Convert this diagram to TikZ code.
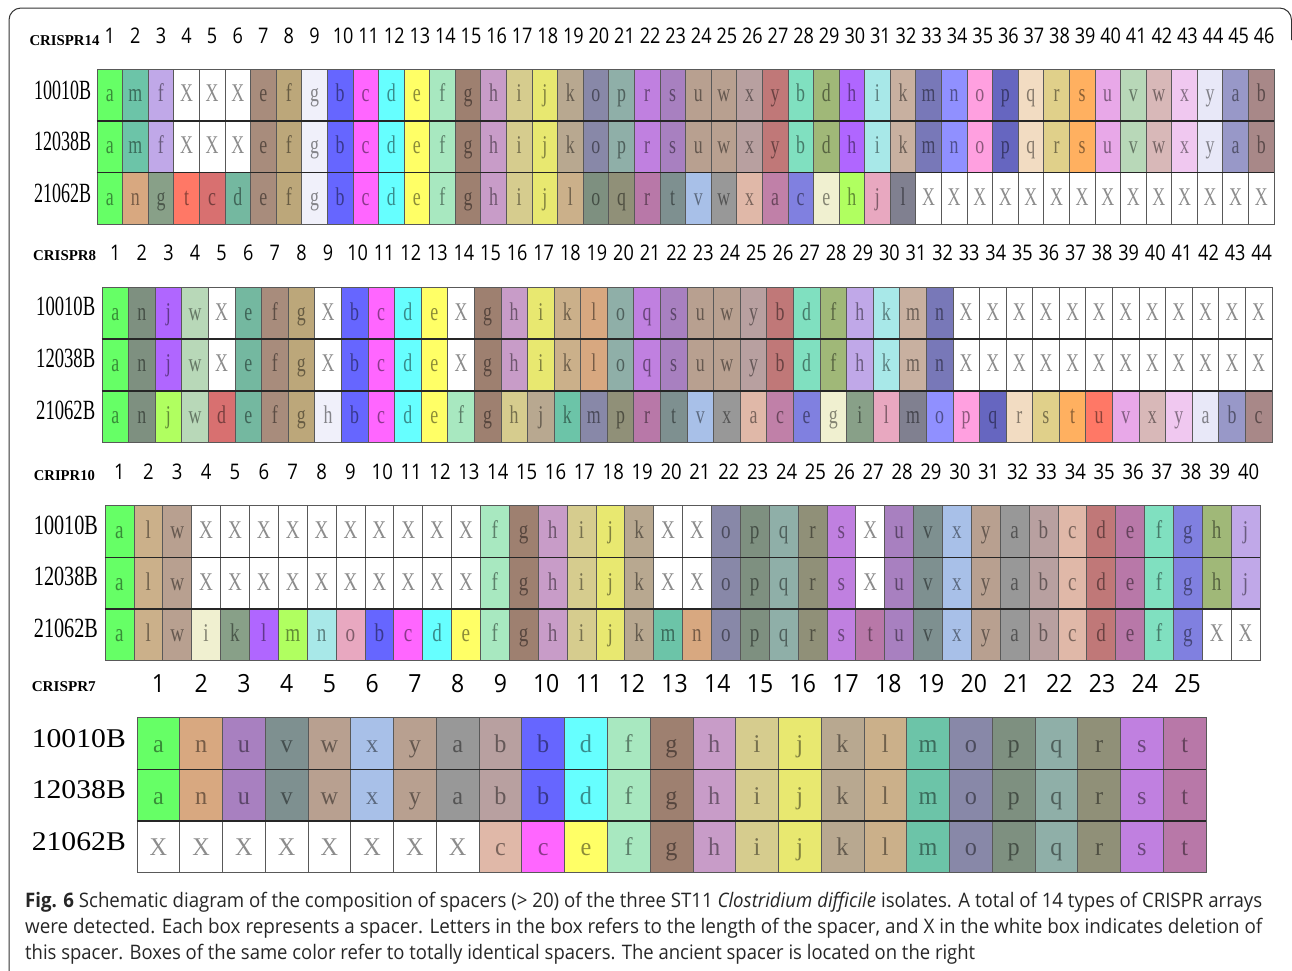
\documentclass[tikz,border=0pt]{standalone}
\usepackage{fontspec}
\setmainfont{Liberation Serif}
\newfontfamily\numfont{Open Sans}
\newfontfamily\capfont{Open Sans}
\usepackage{graphicx}
% palette
\definecolor{GR}{HTML}{66FF66}
\definecolor{TE}{HTML}{6CC4A8}
\definecolor{LV}{HTML}{C0A8E8}
\definecolor{BR1}{HTML}{A88C7C}
\definecolor{TN}{HTML}{BCA77A}
\definecolor{WH2}{HTML}{F0F0FA}
\definecolor{BL}{HTML}{6666FF}
\definecolor{MG}{HTML}{FF66FF}
\definecolor{CY}{HTML}{66FFFF}
\definecolor{YE}{HTML}{FFFF66}
\definecolor{MT}{HTML}{A8E8C0}
\definecolor{BR2}{HTML}{9E8070}
\definecolor{LP}{HTML}{C89CC8}
\definecolor{KH}{HTML}{D6CC8E}
\definecolor{YJ}{HTML}{E8E870}
\definecolor{TP}{HTML}{B8A890}
\definecolor{SL}{HTML}{8888A8}
\definecolor{GT}{HTML}{8FAFA8}
\definecolor{PP}{HTML}{C080E0}
\definecolor{PU}{HTML}{A880C0}
\definecolor{TB}{HTML}{B8A090}
\definecolor{MV}{HTML}{B8A0A0}
\definecolor{RD}{HTML}{C07878}
\definecolor{MN}{HTML}{80E0C0}
\definecolor{OL}{HTML}{A0B878}
\definecolor{VI}{HTML}{B066FF}
\definecolor{PC}{HTML}{A8E8E8}
\definecolor{TQ}{HTML}{C8B0A0}
\definecolor{SB}{HTML}{7878B8}
\definecolor{PW}{HTML}{9090FF}
\definecolor{PK}{HTML}{FFA0E0}
\definecolor{IN}{HTML}{6666C0}
\definecolor{PE}{HTML}{F2DCC2}
\definecolor{KY}{HTML}{E0D08A}
\definecolor{OR}{HTML}{FFB060}
\definecolor{PM}{HTML}{E8A8E8}
\definecolor{SG}{HTML}{B8D8B8}
\definecolor{DP}{HTML}{D8B8B8}
\definecolor{PL}{HTML}{F0C8F0}
\definecolor{VL}{HTML}{E8E8F8}
\definecolor{SP}{HTML}{9898C8}
\definecolor{MB}{HTML}{A88888}
\definecolor{NT}{HTML}{D8A880}
\definecolor{GG}{HTML}{88A088}
\definecolor{CO}{HTML}{FF7866}
\definecolor{RP}{HTML}{D87070}
\definecolor{TL}{HTML}{74B8A0}
\definecolor{LT}{HTML}{CBB08A}
\definecolor{GN}{HTML}{7E9080}
\definecolor{GO}{HTML}{909078}
\definecolor{MA}{HTML}{B878A8}
\definecolor{GQ}{HTML}{7E9090}
\definecolor{LB}{HTML}{A8C0E8}
\definecolor{GY}{HTML}{989898}
\definecolor{PH}{HTML}{E0B8A8}
\definecolor{MP}{HTML}{C080A8}
\definecolor{BV}{HTML}{8080E0}
\definecolor{CR}{HTML}{F0F0D0}
\definecolor{LM}{HTML}{B0FF60}
\definecolor{PN}{HTML}{E8A8C0}
\definecolor{SGY}{HTML}{808090}

\tikzset{
  spcell/.style={rectangle, draw=black!65, line width=0.7pt, inner sep=0pt,
    font=\fontsize{25.5}{25.5}\selectfont, text height=19pt, text depth=4.7pt},
  rowsep/.style={line width=1.6pt, draw=black!85},
  paneltitle/.style={anchor=base west, inner sep=0pt, font=\bfseries\fontsize{15}{15}\selectfont},
  rowlab/.style={anchor=base west, inner sep=0pt, font=\fontsize{28}{28}\selectfont},
  numlab/.style={anchor=base, inner sep=0pt, font=\numfont\fontsize{21.5}{21.5}\selectfont},
  numbig/.style={anchor=base, inner sep=0pt, font=\numfont\fontsize{25}{25}\selectfont},
  capline/.style={anchor=base west, inner sep=0pt, font=\capfont\fontsize{20}{22}\selectfont, text=black!85},
  outerframe/.style={line width=1pt, draw=black!80, rounded corners=12pt}
}

% #1 name prefix, #2 x0, #3 top, #4 cell width, #5 row height, #6 letter x-scale, #7 list
\newcommand{\sprow}[7]{%
  \foreach \ltr/\clr [count=\ci] in {#7}{%
    \node[spcell, minimum width=#4pt, minimum height=#5pt, fill=\clr, text=\clr!55!black]
      (#1c\ci) at ({#2+(\ci-0.5)*#4},{#3+0.5*#5}) {\scalebox{#6}[1]{\ltr}};
  }%
}
% #1 prefix, #2 x0, #3 baseline, #4 cell width, #5 count, #6 style, #7 x-scale
\newcommand{\numrow}[7]{%
  \foreach \k in {1,...,#5}{%
    \ifnum\k<10\relax\def\ndx{0}\else\def\ndx{3}\fi
    \node[#6] (#1n\k) at ({#2+(\k-0.5)*#4+\ndx},#3) {\scalebox{#7}[1]{\k}};
  }%
}

\begin{document}
\begin{tikzpicture}[x=1pt,y=-1pt]
\useasboundingbox (0,0) rectangle (1292,970);
\coordinate (fA) at (9,975);
\coordinate (fB) at (9,8);
\coordinate (fC) at (1291.5,8);
\coordinate (fD) at (1291.5,40);
\draw[outerframe] (fA) -- (fB) -- (fC) -- (fD);

% ---------------- CRISPR14 ----------------
\node[paneltitle] (t1) at (29.3,45) {\resizebox{70pt}{\height}{CRISPR14}};
\numrow{p1}{97}{43.3}{25.587}{46}{numlab}{0.84}
\node[rowlab] (p1l1) at (34,99) {\resizebox{57pt}{18.5pt}{10010B}};
\node[rowlab] (p1l2) at (34,150.7) {\resizebox{57pt}{18.5pt}{12038B}};
\node[rowlab] (p1l3) at (34,202.3) {\resizebox{57pt}{18.5pt}{21062B}};
\sprow{p1r1}{97}{69}{25.587}{51.67}{0.7}{a/GR, m/TE, f/LV, X/white, X/white, X/white, e/BR1, f/TN, g/WH2, b/BL, c/MG, d/CY, e/YE, f/MT, g/BR2, h/LP, i/KH, j/YJ, k/TP, o/SL, p/GT, r/PP, s/PU, u/TB, w/TB, x/MV, y/RD, b/MN, d/OL, h/VI, i/PC, k/TQ, m/SB, n/PW, o/PK, p/IN, q/PE, r/KY, s/OR, u/PM, v/SG, w/DP, x/PL, y/VL, a/SP, b/MB}
\sprow{p1r2}{97}{120.67}{25.587}{51.67}{0.7}{a/GR, m/TE, f/LV, X/white, X/white, X/white, e/BR1, f/TN, g/WH2, b/BL, c/MG, d/CY, e/YE, f/MT, g/BR2, h/LP, i/KH, j/YJ, k/TP, o/SL, p/GT, r/PP, s/PU, u/TB, w/TB, x/MV, y/RD, b/MN, d/OL, h/VI, i/PC, k/TQ, m/SB, n/PW, o/PK, p/IN, q/PE, r/KY, s/OR, u/PM, v/SG, w/DP, x/PL, y/VL, a/SP, b/MB}
\sprow{p1r3}{97}{172.33}{25.587}{51.67}{0.7}{a/GR, n/NT, g/GG, t/CO, c/RP, d/TL, e/BR1, f/TN, g/WH2, b/BL, c/MG, d/CY, e/YE, f/MT, g/BR2, h/LP, i/KH, j/YJ, l/LT, o/GN, q/GO, r/MA, t/GQ, v/LB, w/GY, x/PH, a/MP, c/BV, e/CR, h/LM, j/PN, l/SGY, X/white, X/white, X/white, X/white, X/white, X/white, X/white, X/white, X/white, X/white, X/white, X/white, X/white, X/white}
\draw[rowsep] (p1r1c1.south west) -- (p1r1c46.south east);
\draw[rowsep] (p1r2c1.south west) -- (p1r2c46.south east);

% ---------------- CRISPR8 ----------------
\node[paneltitle] (t2) at (33,260) {\resizebox{63pt}{\height}{CRISPR8}};
\numrow{p2}{102}{260}{26.59}{44}{numlab}{0.84}
\node[rowlab] (p2l1) at (36,315.5) {\resizebox{59pt}{18.5pt}{10010B}};
\node[rowlab] (p2l2) at (36,367.3) {\resizebox{59pt}{18.5pt}{12038B}};
\node[rowlab] (p2l3) at (36,419.1) {\resizebox{59pt}{18.5pt}{21062B}};
\sprow{p2r1}{102}{287}{26.59}{51.8}{0.7}{a/GR, n/GN, j/VI, w/SG, X/white, e/TL, f/BR1, g/TN, X/white, b/BL, c/MG, d/CY, e/YE, X/white, g/BR2, h/LP, i/YJ, k/LT, l/NT, o/GT, q/PP, s/PU, u/TB, w/TB, y/MV, b/RD, d/MN, f/OL, h/LV, k/PC, m/TQ, n/SB, X/white, X/white, X/white, X/white, X/white, X/white, X/white, X/white, X/white, X/white, X/white, X/white}
\sprow{p2r2}{102}{338.8}{26.59}{51.8}{0.7}{a/GR, n/GN, j/VI, w/SG, X/white, e/TL, f/BR1, g/TN, X/white, b/BL, c/MG, d/CY, e/YE, X/white, g/BR2, h/LP, i/YJ, k/LT, l/NT, o/GT, q/PP, s/PU, u/TB, w/TB, y/MV, b/RD, d/MN, f/OL, h/LV, k/PC, m/TQ, n/SB, X/white, X/white, X/white, X/white, X/white, X/white, X/white, X/white, X/white, X/white, X/white, X/white}
\sprow{p2r3}{102}{390.6}{26.59}{51.8}{0.7}{a/GR, n/GN, j/LM, w/SG, d/RP, e/TL, f/BR1, g/TN, h/WH2, b/BL, c/MG, d/CY, e/YE, f/MT, g/BR2, h/KH, j/TP, k/TE, m/SL, p/GO, r/MA, t/GQ, v/LB, x/GY, a/PH, c/MP, e/BV, g/CR, i/GG, l/PN, m/SGY, o/PW, p/PK, q/IN, r/PE, s/KY, t/OR, u/CO, v/PM, x/DP, y/PL, a/VL, b/SP, c/MB}
\draw[rowsep] (p2r1c1.south west) -- (p2r1c44.south east);
\draw[rowsep] (p2r2c1.south west) -- (p2r2c44.south east);

% ---------------- CRIPR10 ----------------
\node[paneltitle] (t3) at (33.7,480) {\resizebox{61pt}{\height}{CRIPR10}};
\numrow{p3}{105}{479.5}{28.875}{40}{numlab}{0.86}
\node[rowlab] (p3l1) at (33.7,534.2) {\resizebox{64pt}{18.5pt}{10010B}};
\node[rowlab] (p3l2) at (33.7,585.7) {\resizebox{64pt}{18.5pt}{12038B}};
\node[rowlab] (p3l3) at (33.7,637.1) {\resizebox{64pt}{18.5pt}{21062B}};
\sprow{p3r1}{105}{505.7}{28.875}{51.45}{0.75}{a/GR, l/LT, w/TB, X/white, X/white, X/white, X/white, X/white, X/white, X/white, X/white, X/white, X/white, f/MT, g/BR2, h/LP, i/KH, j/YJ, k/TP, X/white, X/white, o/SL, p/GN, q/GT, r/GO, s/PP, X/white, u/PU, v/GQ, x/LB, y/TB, a/GY, b/MV, c/PH, d/RD, e/MA, f/MN, g/BV, h/OL, j/LV}
\sprow{p3r2}{105}{557.15}{28.875}{51.45}{0.75}{a/GR, l/LT, w/TB, X/white, X/white, X/white, X/white, X/white, X/white, X/white, X/white, X/white, X/white, f/MT, g/BR2, h/LP, i/KH, j/YJ, k/TP, X/white, X/white, o/SL, p/GN, q/GT, r/GO, s/PP, X/white, u/PU, v/GQ, x/LB, y/TB, a/GY, b/MV, c/PH, d/RD, e/MA, f/MN, g/BV, h/OL, j/LV}
\sprow{p3r3}{105}{608.6}{28.875}{51.45}{0.75}{a/GR, l/LT, w/TB, i/CR, k/GG, l/VI, m/LM, n/PC, o/PN, b/BL, c/MG, d/CY, e/YE, f/MT, g/BR2, h/LP, i/KH, j/YJ, k/TP, m/TE, n/NT, o/SL, p/GN, q/GT, r/GO, s/PP, t/MA, u/PU, v/GQ, x/LB, y/TB, a/GY, b/MV, c/PH, d/RD, e/MA, f/MN, g/BV, X/white, X/white}
\draw[rowsep] (p3r1c1.south west) -- (p3r1c40.south east);
\draw[rowsep] (p3r2c1.south west) -- (p3r2c40.south east);

% ---------------- CRISPR7 ----------------
\node[paneltitle] (t4) at (31.6,691) {\resizebox{64pt}{\height}{CRISPR7}};
\numrow{p4}{137}{692}{42.76}{25}{numbig}{0.92}
\node[rowlab] (p4l1) at (31.6,747) {\resizebox{94pt}{18pt}{10010B}};
\node[rowlab] (p4l2) at (31.6,798.5) {\resizebox{94pt}{18pt}{12038B}};
\node[rowlab] (p4l3) at (31.6,850) {\resizebox{94pt}{18pt}{21062B}};
\begin{scope}[spcell/.append style={text height=21pt, text depth=2.5pt}]
\sprow{p4r1}{137}{717.7}{42.76}{51.5}{0.95}{a/GR, n/NT, u/PU, v/GQ, w/TB, x/LB, y/TB, a/GY, b/MV, b/BL, d/CY, f/MT, g/BR2, h/LP, i/KH, j/YJ, k/TP, l/LT, m/TE, o/SL, p/GN, q/GT, r/GO, s/PP, t/MA}
\sprow{p4r2}{137}{769.2}{42.76}{51.5}{0.95}{a/GR, n/NT, u/PU, v/GQ, w/TB, x/LB, y/TB, a/GY, b/MV, b/BL, d/CY, f/MT, g/BR2, h/LP, i/KH, j/YJ, k/TP, l/LT, m/TE, o/SL, p/GN, q/GT, r/GO, s/PP, t/MA}
\sprow{p4r3}{137}{820.7}{42.76}{51.5}{0.95}{X/white, X/white, X/white, X/white, X/white, X/white, X/white, X/white, c/PH, c/MG, e/YE, f/MT, g/BR2, h/LP, i/KH, j/YJ, k/TP, l/LT, m/TE, o/SL, p/GN, q/GT, r/GO, s/PP, t/MA}
\end{scope}
\draw[rowsep] (p4r1c1.south west) -- (p4r1c25.south east);
\draw[rowsep] (p4r2c1.south west) -- (p4r2c25.south east);

% ---------------- caption ----------------
\node[capline] (cap1) at (25,907) {\resizebox{1237pt}{\height}{{\bfseries Fig. 6} Schematic diagram of the composition of spacers (> 20) of the three ST11 \textit{Clostridium difficile} isolates. A total of 14 types of CRISPR arrays}};
\node[capline] (cap2) at (25,933) {\resizebox{1237pt}{\height}{were detected. Each box represents a spacer. Letters in the box refers to the length of the spacer, and X in the white box indicates deletion of}};
\node[capline] (cap3) at (25,959) {\resizebox{950pt}{\height}{this spacer. Boxes of the same color refer to totally identical spacers. The ancient spacer is located on the right}};
\end{tikzpicture}
\end{document}
